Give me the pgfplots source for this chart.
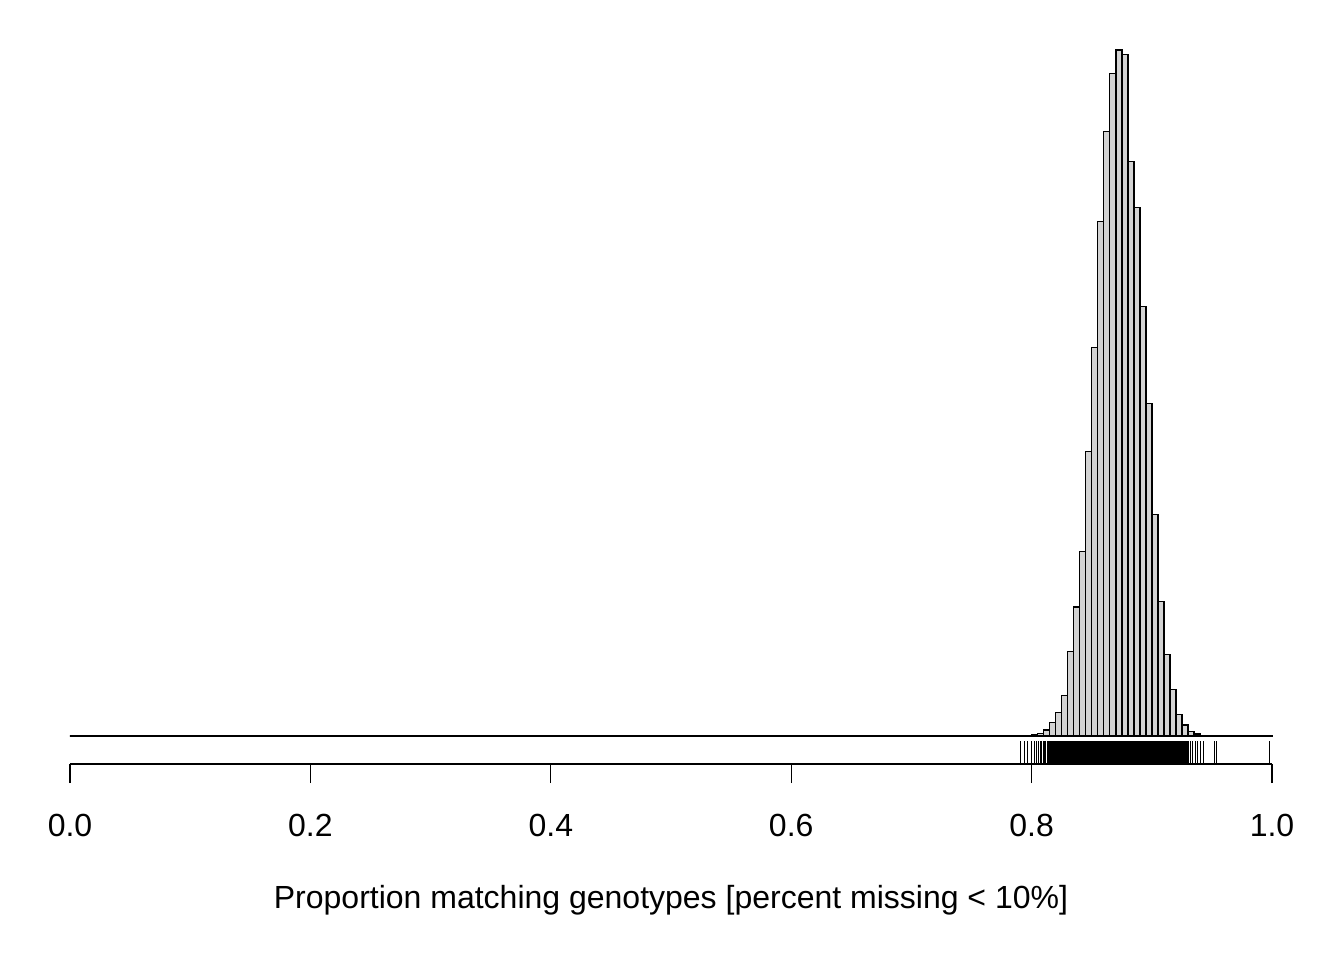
\documentclass[border=0pt]{standalone}
\usepackage{pgfplots}
\pgfplotsset{compat=1.18}
\usepackage{fontspec}
\setmainfont{Liberation Sans}
\definecolor{histgray}{HTML}{D3D3D3}
\begin{document}
\begin{tikzpicture}[x=1pt,y=1pt]
\useasboundingbox (0,0) rectangle (672,480);
\begin{axis}[
  at={(35pt,98pt)}, anchor=south west,
  scale only axis, width=601pt, height=364pt,
  xmin=0, xmax=1, ymin=-28, ymax=700,
  axis x line=bottom, axis y line=none,
  axis line style={-, line width=0.65pt},
  xtick={0,0.2,0.4,0.6,0.8,1.0},
  xticklabels={0.0,0.2,0.4,0.6,0.8,1.0},
  major tick length=9.5pt, tick align=outside,
  tick style={line width=0.65pt, black},
  font=\fontsize{16}{19}\selectfont,
  xticklabel style={anchor=center, yshift=-21pt},
  xlabel={Proportion matching genotypes [percent missing < 10\%]},
  xlabel style={at={(axis description cs:0.5,0)}, anchor=center, yshift=-68pt},
  clip=false,
]
% histogram (bin left edges, heights; last row closes the interval)
\addplot[ybar interval, fill=histgray, draw=black, line width=0.75pt] table {
x y
0 0
0.790 0.5
0.795 0.5
0.800 1
0.805 2.7
0.810 6
0.815 13.3
0.820 23.7
0.825 40.3
0.830 84.3
0.835 129
0.840 184.7
0.845 284.3
0.850 388.3
0.855 514.3
0.860 604.3
0.865 662.7
0.870 686
0.875 681.7
0.880 574.3
0.885 528.7
0.890 429.3
0.895 332.7
0.900 221.7
0.905 134.3
0.910 81.7
0.915 46.7
0.920 21.7
0.925 11
0.930 4.3
0.935 2
0.940 0.7
0.945 0.3
0.950 0.7
0.955 0.3
0.960 0
0.995 0.5
1.000 0
};
% rug: dense band of observations
\addplot[fill=black, draw=none] coordinates {
(0.8126,-27) (0.9312,-27) (0.9312,-5) (0.8126,-5)
};
% rug: individual sparse observations
\addplot[only marks, mark=|, mark size=5.5pt, mark options={line width=0.45pt, black}] table {
x y
0.7909 -16
0.7937 -16
0.7964 -16
0.8000 -16
0.8020 -16
0.8037 -16
0.8056 -16
0.8070 -16
0.8084 -16
0.8095 -16
0.8105 -16
0.8115 -16
0.9323 -16
0.9338 -16
0.9360 -16
0.9382 -16
0.9401 -16
0.9429 -16
0.9520 -16
0.9540 -16
0.9978 -16
};
\end{axis}
\end{tikzpicture}
\end{document}
